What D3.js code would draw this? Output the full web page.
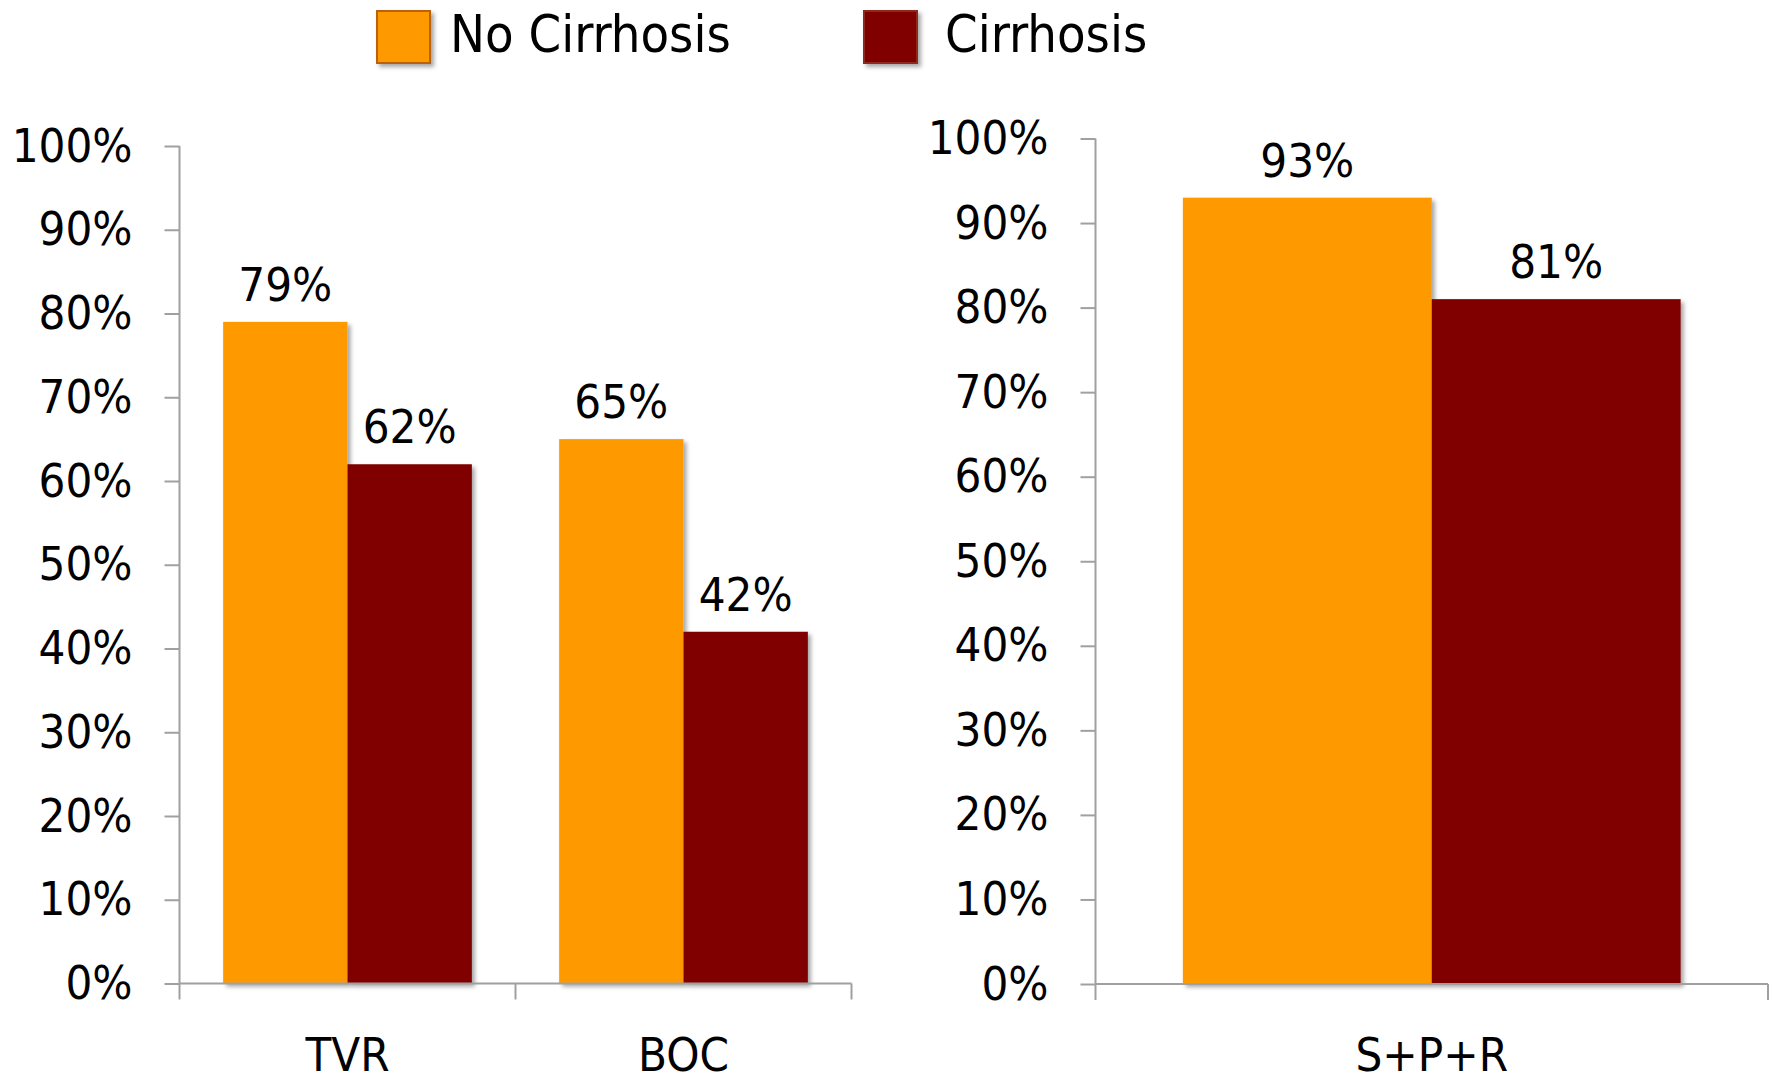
<!DOCTYPE html>
<html>
<head>
<meta charset="utf-8">
<script src="https://cdn.jsdelivr.net/npm/d3@7"></script>
<style>
  html, body { margin: 0; padding: 0; background: #fff; }
  svg { display: block; }
  text { font-family: "DejaVu Sans Condensed", "DejaVu Sans", sans-serif; fill: #000; }
</style>
</head>
<body>
<svg id="chart" width="1773" height="1081"></svg>
<script>
// Response rates by regimen, split by cirrhosis status
const series = ["No Cirrhosis", "Cirrhosis"];
const seriesColors = ["#FF9900", "#800000"];
const legendBorders = ["#B8620F", "#8E2A1E"];

const leftCategories = ["TVR", "BOC"];
const leftNoCirrhosis = [79, 65];
const leftCirrhosis = [62, 42];

const rightCategories = ["S+P+R"];
const rightNoCirrhosis = [93];
const rightCirrhosis = [81];

const yTickValues = [0, 10, 20, 30, 40, 50, 60, 70, 80, 90, 100];

const svg = d3.select("#chart");

// soft drop shadow under bars and legend swatches
const defs = svg.append("defs");
const shadow = defs.append("filter").attr("id", "shadow")
  .attr("x", "-10%").attr("y", "-10%").attr("width", "130%").attr("height", "130%");
shadow.append("feDropShadow")
  .attr("dx", 3).attr("dy", 3).attr("stdDeviation", 2)
  .attr("flood-color", "#000").attr("flood-opacity", 0.35);

const axisColor = "#a0a0a0";

function drawPanel(cfg) {
  const { categories, noCirr, cirr, x0, x1, yBottom, yTop } = cfg;
  const g = svg.append("g");

  const x = d3.scaleBand().domain(categories).range([x0, x1]).paddingInner(0).paddingOuter(0);
  const xSub = d3.scaleBand().domain(series).range([0, x.bandwidth()])
    .paddingInner(0).paddingOuter(0.351);
  const y = d3.scaleLinear().domain([0, 100]).range([yBottom, yTop]);

  // y axis
  const yAxis = g.append("g")
    .attr("transform", `translate(${x0},0)`)
    .call(d3.axisLeft(y).tickValues(yTickValues).tickSize(15).tickPadding(32)
      .tickFormat(d => d + "%"));
  yAxis.select(".domain").attr("stroke", axisColor).attr("stroke-width", 2)
    .attr("d", `M0,${y(100)}V${y(0)}`);
  yAxis.selectAll(".tick line").attr("stroke", axisColor).attr("stroke-width", 2);
  yAxis.selectAll(".tick text").attr("font-size", 47)
    .attr("font-family", "'DejaVu Sans Condensed', 'DejaVu Sans', sans-serif")
    .attr("fill", "#000");

  // bars
  const rows = categories.map((c, i) => ({ cat: c, values: [noCirr[i], cirr[i]] }));
  const groups = g.selectAll(".grp").data(rows).enter().append("g")
    .attr("transform", d => `translate(${x(d.cat)},0)`);

  groups.selectAll("rect")
    .data(d => d.values.map((v, j) => ({ key: series[j], v, j })))
    .enter().append("rect")
    .attr("x", d => xSub(d.key))
    .attr("y", d => y(d.v))
    .attr("width", xSub.bandwidth())
    .attr("height", d => y(0) - y(d.v))
    .attr("fill", d => seriesColors[d.j])
    .attr("filter", "url(#shadow)");

  groups.selectAll(".val")
    .data(d => d.values.map((v, j) => ({ key: series[j], v, j })))
    .enter().append("text")
    .attr("x", d => xSub(d.key) + xSub.bandwidth() / 2)
    .attr("y", d => y(d.v) - 21)
    .attr("text-anchor", "middle")
    .attr("font-size", 47)
    .text(d => d.v + "%");

  // x axis line with boundary ticks
  g.append("line")
    .attr("x1", x0).attr("x2", x1).attr("y1", y(0)).attr("y2", y(0))
    .attr("stroke", axisColor).attr("stroke-width", 2);
  const edges = categories.map(c => x(c)).concat([x1]);
  g.selectAll(".edge").data(edges).enter().append("line")
    .attr("x1", d => d).attr("x2", d => d)
    .attr("y1", y(0)).attr("y2", y(0) + 16)
    .attr("stroke", axisColor).attr("stroke-width", 2);

  // category labels
  g.selectAll(".cat").data(categories).enter().append("text")
    .attr("x", d => x(d) + x.bandwidth() / 2)
    .attr("y", 1071)
    .attr("text-anchor", "middle")
    .attr("font-size", 47)
    .text(d => d);
}

drawPanel({ categories: leftCategories, noCirr: leftNoCirrhosis, cirr: leftCirrhosis,
  x0: 179.5, x1: 851.5, yBottom: 983.5, yTop: 146 });
drawPanel({ categories: rightCategories, noCirr: rightNoCirrhosis, cirr: rightCirrhosis,
  x0: 1095.5, x1: 1768, yBottom: 984, yTop: 138.5 });

// legend
const legendX = [377, 864];
const legend = svg.append("g");
series.forEach((s, i) => {
  legend.append("rect")
    .attr("x", legendX[i]).attr("y", 11)
    .attr("width", 53).attr("height", 52)
    .attr("fill", seriesColors[i])
    .attr("stroke", legendBorders[i]).attr("stroke-width", 2)
    .attr("filter", "url(#shadow)");
  legend.append("text")
    .attr("x", legendX[i] + (i === 0 ? 73 : 81))
    .attr("y", 52)
    .attr("font-size", 52)
    .text(s);
});
</script>
</body>
</html>
